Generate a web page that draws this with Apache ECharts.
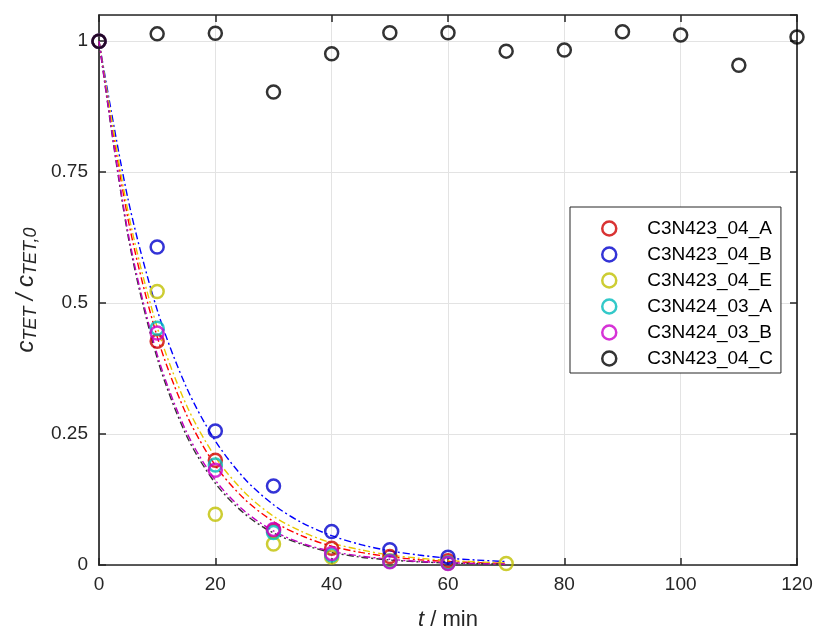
<!DOCTYPE html>
<html><head><meta charset="utf-8">
<script src="https://cdn.jsdelivr.net/npm/echarts@6/dist/echarts.min.js"></script>
<style>html,body{margin:0;padding:0;background:#fff}#c{width:816px;height:628px}</style>
</head><body><div id="c"></div><script>
// ---- data ----
const tMeas = [0, 10, 20, 30, 40, 50, 60];
const seriesNames = ['C3N423_04_A', 'C3N423_04_B', 'C3N423_04_E', 'C3N424_03_A', 'C3N424_03_B', 'C3N423_04_C'];
const measA = [1, 0.427, 0.200, 0.066, 0.032, 0.016, 0.008];
const measB = [1, 0.607, 0.256, 0.151, 0.064, 0.029, 0.015];
const tMeasE = [0, 10, 20, 30, 40, 50, 60, 70];
const measE = [1, 0.522, 0.097, 0.040, 0.015, 0.008, 0.004, 0.003];
const measCyan = [1, 0.452, 0.191, 0.062, 0.019, 0.007, 0.004];
const measMag = [1, 0.443, 0.181, 0.068, 0.022, 0.006, 0.003];
const tCtrl = [0, 10, 20, 30, 40, 50, 60, 70, 80, 90, 100, 110, 120];
const measCtrl = [1, 1.014, 1.015, 0.903, 0.976, 1.016, 1.016, 0.981, 0.983, 1.018, 1.012, 0.954, 1.008];

const tFit = [0, 5, 10, 15, 20, 25, 30, 35, 40, 45, 50, 55, 60, 65, 70];
const fitA = [1, 0.660, 0.436, 0.288, 0.190, 0.126, 0.083, 0.055, 0.036, 0.024, 0.016, 0.010, 0.0069, 0.0045, 0.003];
const fitB = [1, 0.698, 0.487, 0.340, 0.237, 0.165, 0.115, 0.080, 0.056, 0.039, 0.027, 0.019, 0.013, 0.0094, 0.0065];
const fitE = [1, 0.674, 0.454, 0.306, 0.206, 0.139, 0.093, 0.063, 0.042, 0.029, 0.019, 0.013, 0.0087, 0.0059, 0.004];
const fitCyan = [1, 0.628, 0.395, 0.248, 0.156, 0.098, 0.061, 0.039, 0.024, 0.015, 0.0096, 0.006, 0.0038, 0.0024, 0.0015];
const fitMag = [1, 0.634, 0.402, 0.255, 0.162, 0.103, 0.065, 0.041, 0.026, 0.017, 0.011, 0.0067, 0.0043, 0.0027, 0.0017];

const xTicks = [0, 20, 40, 60, 80, 100, 120];
const yTicks = [0, 0.25, 0.5, 0.75, 1];

// ---- styling ----
const FONT = "'Liberation Sans', Arial, Helvetica, sans-serif";
const markerColors = ['#d00000', '#0000cc', '#c0c000', '#00bcbc', '#cc00cc', '#000000'];
const fitColors = ['#ff0000', '#0000ff', '#e8c800', '#333333', '#c000c0'];
const AX = '#262626';

const zip = (xs, ys) => xs.map((x, i) => [x, ys[i]]);

function scatter(name, xs, ys, color) {
  return {
    name, type: 'scatter', data: zip(xs, ys), symbol: 'circle', symbolSize: 13,
    itemStyle: { color: 'rgba(0,0,0,0)', borderColor: color, borderWidth: 2.5 },
    z: 5, emphasis: { disabled: true }, animation: false
  };
}
function fit(name, ys, color) {
  return {
    name, type: 'line', data: zip(tFit, ys), showSymbol: false, symbol: 'none', smooth: 0.3,
    lineStyle: { color, width: 1.4, type: [7, 3, 2, 3] }, z: 3, silent: true, animation: false
  };
}

const series = [
  fit('fitA', fitA, fitColors[0]),
  fit('fitB', fitB, fitColors[1]),
  fit('fitE', fitE, fitColors[2]),
  fit('fitCyan', fitCyan, fitColors[3]),
  fit('fitMag', fitMag, fitColors[4]),
  scatter(seriesNames[0], tMeas, measA, markerColors[0]),
  scatter(seriesNames[1], tMeas, measB, markerColors[1]),
  scatter(seriesNames[2], tMeasE, measE, markerColors[2]),
  scatter(seriesNames[3], tMeas, measCyan, markerColors[3]),
  scatter(seriesNames[4], tMeas, measMag, markerColors[4]),
  scatter(seriesNames[5], tCtrl, measCtrl, markerColors[5])
];

const labelStyle = { fontFamily: FONT, fontSize: 19, color: AX };

const chart = echarts.init(document.getElementById('c'), null, { renderer: 'canvas' });
chart.setOption({
  animation: false,
  backgroundColor: '#fff',
  grid: { left: 99, top: 15, width: 698, height: 550, containLabel: false, outerBoundsMode: 'none' },
  legend: {
    data: seriesNames.map((n, i) => ({ name: n, icon: 'circle',
      itemStyle: { color: 'rgba(0,0,0,0)', borderColor: markerColors[i], borderWidth: 2.5 } })),
    orient: 'vertical', left: 570, top: 207,
    padding: [12, 8, 5, 31], itemGap: 7, itemWidth: 14, itemHeight: 14,
    backgroundColor: '#fff', borderColor: AX, borderWidth: 1,
    textStyle: { fontFamily: FONT, fontSize: 19, color: '#000', padding: [0, 0, 0, 26] },
    selectedMode: false
  },
  xAxis: [{
    type: 'value', min: 0, max: 120, interval: 20,
    name: '{i|t} / min', nameLocation: 'middle', nameGap: 44,
    nameTextStyle: { fontFamily: FONT, fontSize: 22, color: AX, rich: { i: { fontFamily: FONT, fontSize: 22, fontStyle: 'italic', color: AX } } },
    axisLine: { show: true, onZero: false, lineStyle: { color: AX, width: 1.7 } },
    axisTick: { show: true, inside: true, length: 7, lineStyle: { color: AX, width: 1.5 } },
    axisLabel: Object.assign({ margin: 10, formatter: v => xTicks.includes(v) ? String(v) : '' }, labelStyle),
    splitLine: { show: true, lineStyle: { color: '#e3e3e3', width: 1 } }
  }, {
    type: 'value', position: 'top', min: 0, max: 120, interval: 20,
    axisLine: { show: true, onZero: false, lineStyle: { color: AX, width: 1.7 } },
    axisTick: { show: true, inside: true, length: 7, lineStyle: { color: AX, width: 1.5 } },
    axisLabel: { show: false }, splitLine: { show: false }
  }],
  yAxis: [{
    type: 'value', min: 0, max: 1.05, interval: 0.25,
    name: '{c|c}{s|TET} {c|/ }{c|c}{s|TET,0}', nameLocation: 'middle', nameRotate: 90, nameGap: 54,
    nameTextStyle: { fontFamily: FONT, fontSize: 22, color: AX,
      rich: {
        c: { fontFamily: FONT, fontSize: 24, fontStyle: 'italic', color: AX, lineHeight: 26, verticalAlign: 'top' },
        s: { fontFamily: FONT, fontSize: 18, fontStyle: 'italic', color: AX, lineHeight: 16, verticalAlign: 'bottom' }
      } },
    axisLine: { show: true, onZero: false, lineStyle: { color: AX, width: 1.7 } },
    axisTick: { show: true, inside: true, length: 7, lineStyle: { color: AX, width: 1.5 } },
    axisLabel: Object.assign({ margin: 11, showMaxLabel: false, formatter: v => yTicks.includes(v) ? String(v) : '' }, labelStyle),
    splitLine: { show: true, lineStyle: { color: '#e3e3e3', width: 1 } }
  }, {
    type: 'value', position: 'right', min: 0, max: 1.05, interval: 0.25,
    axisLine: { show: true, onZero: false, lineStyle: { color: AX, width: 1.7 } },
    axisTick: { show: true, inside: true, length: 7, lineStyle: { color: AX, width: 1.5 } },
    axisLabel: { show: false }, splitLine: { show: false }
  }],
  series
});
</script></body></html>
